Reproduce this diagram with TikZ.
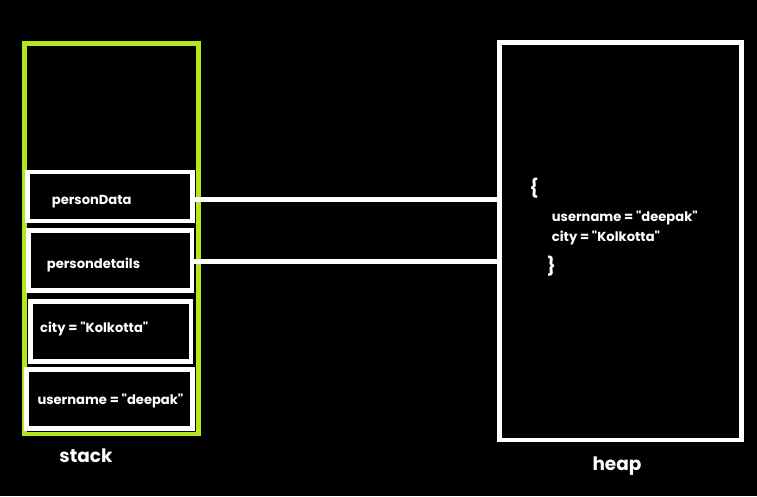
\documentclass[tikz,border=0pt]{standalone}
\usepackage{fontspec}
\setmainfont{Poppins}[Ligatures=TeXOff]
\usepackage{xcolor}
\usepackage{tikz}
\usetikzlibrary{positioning}
\definecolor{stackgreen}{RGB}{181,230,29}

\begin{document}
\begin{tikzpicture}[x=1pt,y=-1pt,
  cell/.style={draw=white,line width=4.7pt,inner sep=0pt},
  txt/.style={white,font=\bfseries\fontsize{13.1}{15}\selectfont,anchor=base west,inner sep=0pt},
  title/.style={white,font=\bfseries\fontsize{18.5}{20}\selectfont,anchor=base,inner sep=0pt},
  link/.style={white,line width=4.7pt}]
\fill[black] (0,0) rectangle (757,496);
\useasboundingbox (0,0) rectangle (757,496);

% stack frame
\node[draw=stackgreen,line width=4.6pt,inner sep=0pt,
      minimum width=174pt,minimum height=390.5pt] (stack) at (111.4,238.75) {};
\foreach \n/\xc/\yc/\w/\h in {pData/110/196.5/165/49,
                              pDetails/110.25/260.5/163.5/60,
                              city/110.75/331.5/160.5/60,
                              user/109.5/399/166/59}
  \node[cell,minimum width=\w pt,minimum height=\h pt] (\n) at (\xc,\yc) {};
\foreach \n/\x/\y/\t in {pDataT/51.7/204.3/personData,
                         pDetailsT/46.7/268.3/persondetails,
                         cityT/40/332.7/city = "Kolkotta",
                         userT/37.3/404/username = "deepak"}
  \node[txt] (\n) at (\x,\y) {\t};
\node[title] (stackT) at (86,462.7) {stack};

% heap
\node[cell,minimum width=242pt,minimum height=397.5pt] (heap) at (620.6,241.25) {};
\node[txt,font=\bfseries\fontsize{18}{20}\selectfont] (openB) at (529.3,194) {\{};
\node[txt] (hUser) at (551.7,221) {username = "deepak"};
\node[txt] (hCity) at (551.7,241) {city = "Kolkotta"};
\node[txt,font=\bfseries\fontsize{18}{20}\selectfont] (closeB) at (546.7,272.5) {\}};
\node[title] (heapT) at (617,470.7) {heap};

% references
\coordinate (pDataOut) at ([yshift=-2.8pt]pData.east);
\draw[link] (pDataOut) -- (pDataOut -| heap.west);
\coordinate (pDetailsOut) at ([yshift=-0.8pt]pDetails.east);
\draw[link] (pDetailsOut) -- (pDetailsOut -| heap.west);
\end{tikzpicture}
\end{document}
